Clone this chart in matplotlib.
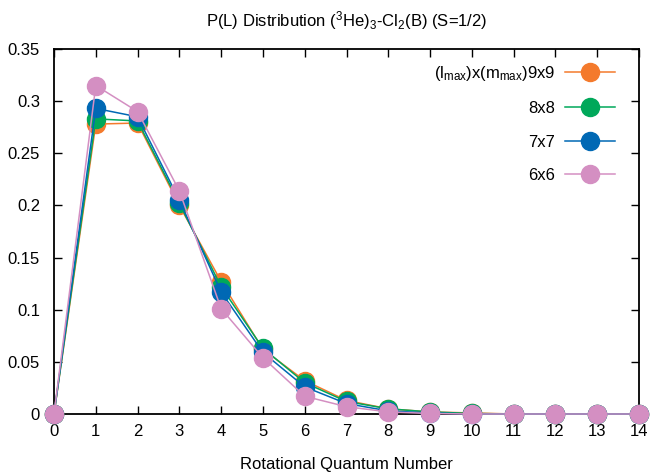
import matplotlib
matplotlib.use("Agg")
import matplotlib.pyplot as plt
import numpy as np

plt.rcParams['font.family'] = ['Liberation Sans', 'DejaVu Sans']
plt.rcParams['mathtext.default'] = 'regular'

L = list(range(15))
p_9x9 = [0, 0.278, 0.279, 0.200, 0.127, 0.062, 0.032, 0.013, 0.005, 0.002, 0.001, 0, 0, 0, 0]
p_8x8 = [0, 0.283, 0.281, 0.202, 0.122, 0.063, 0.030, 0.012, 0.005, 0.002, 0.0005, 0, 0, 0, 0]
p_7x7 = [0, 0.293, 0.285, 0.205, 0.117, 0.059, 0.026, 0.010, 0.003, 0.001, 0, 0, 0, 0, 0]
p_6x6 = [0, 0.315, 0.290, 0.214, 0.101, 0.054, 0.017, 0.007, 0.002, 0.0005, 0, 0, 0, 0, 0]

labels = [r'(l$_{max}$)x(m$_{max}$)9x9', '8x8', '7x7', '6x6']
colors = ['#F47A2C', '#00A85A', '#0068B4', '#D48FC2']

fig = plt.figure(figsize=(6.51, 4.73), dpi=100)
ax = fig.add_axes([54/651, 1-414/473, (639-54)/651, (414-49)/473])

for ys, lab, c in zip([p_9x9, p_8x8, p_7x7, p_6x6], labels, colors):
    ax.plot(L, ys, '-o', color=c, lw=1.1, ms=13, label=lab, clip_on=False, zorder=3)

ax.set_xlim(0, 14)
ax.set_ylim(0, 0.35)
ax.set_xticks(range(15))
ax.set_yticks(np.arange(0, 0.351, 0.05))
ax.set_yticklabels(['0', '0.05', '0.1', '0.15', '0.2', '0.25', '0.3', '0.35'])
ax.tick_params(direction='in', top=True, right=True, length=6, width=1, labelsize=12)
ax.tick_params(axis='y', pad=10)
ax.tick_params(axis='x', pad=7)
for s in ax.spines.values():
    s.set_linewidth(1.3)
    s.set_zorder(2)

ax.set_xlabel('Rotational Quantum Number', fontsize=12, labelpad=13)
ax.set_title(r'P(L) Distribution ($^3$He)$_3$-Cl$_2$(B) (S=1/2)', fontsize=12, pad=16)

ax.legend(loc='upper right', bbox_to_anchor=(0.985, 1.0), frameon=False, markerfirst=False,
          handlelength=3.0, labelspacing=1.1, fontsize=12, handletextpad=0.6)

fig.savefig('out.png', dpi=100)
